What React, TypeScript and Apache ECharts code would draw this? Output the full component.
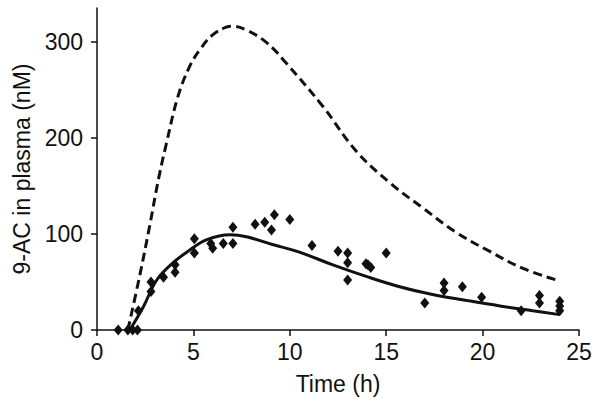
import React, { useEffect, useRef } from "react";
import * as echarts from "echarts";

const obsTime = [1.1, 1.6, 1.85, 2.1, 2.15, 2.8, 2.8, 3.45, 4.05, 4.05, 5.05, 5.05, 5.9, 6.0, 6.55, 7.05, 7.05, 8.2, 8.7, 9.05, 9.2, 10.0, 11.15, 12.5, 13.0, 13.0, 13.0, 13.95, 14.05, 14.2, 15.0, 17.0, 18.0, 18.0, 18.95, 19.95, 22.0, 22.95, 22.95, 24.0, 24.0, 24.0];
const obsConc = [0, 0, 0, 0, 20, 50, 40, 55, 68, 60, 95, 80, 90, 85, 90, 107, 90, 110, 112, 104, 120, 115, 88, 82, 80, 70, 52, 69, 68, 65, 80, 28, 49, 41, 45, 34, 20, 36, 28, 30, 25, 20];

const fitTime = [1.7, 2.4, 3.1, 3.95, 4.8, 5.7, 6.9, 7.75, 9.1, 10.5, 12.2, 14.0, 15.7, 17.4, 19.1, 20.9, 22.6, 24];
const fitConc = [0, 24, 52, 70, 83, 94, 99, 97, 89, 81, 68, 55.5, 45, 37, 31, 25, 20, 16];

const predTime = [1.6, 2.2, 2.7, 3.2, 3.6, 4.2, 4.8, 5.35, 6.0, 6.7, 7.05, 7.75, 8.8, 9.8, 11.7, 13.45, 15.2, 16.9, 18.6, 20.35, 22.1, 24];
const predConc = [0, 55, 105, 158, 194, 243, 274, 292, 307, 315, 316, 312, 299, 278, 233, 186, 153, 127, 102, 82, 64, 51];

const xTicks = { min: 0, max: 25, interval: 5 };
const yTicks = { min: 0, max: 335, interval: 100 };

const zip = (a: number[], b: number[]) => a.map((v, i) => [v, b[i]]);

export default function App() {
  const ref = useRef<HTMLDivElement>(null);
  useEffect(() => {
    if (!ref.current) return;
    const chart = echarts.init(ref.current, null, { renderer: "svg" });
    const font = "'Liberation Sans', Arial, sans-serif";
    const ink = "#111";
    chart.setOption({
      animation: false,
      backgroundColor: "#fff",
      grid: { left: 97, right: 21, top: 8, bottom: 77 },
      xAxis: {
        type: "value",
        min: xTicks.min,
        max: xTicks.max,
        interval: xTicks.interval,
        name: "Time (h)",
        nameLocation: "middle",
        nameGap: 42,
        nameTextStyle: { fontSize: 23, color: ink, fontFamily: font },
        axisLine: { onZero: false, lineStyle: { color: ink, width: 1.5 } },
        axisTick: { length: 6, lineStyle: { color: ink, width: 1.5 } },
        axisLabel: { fontSize: 23, color: ink, fontFamily: font, margin: 10 },
        splitLine: { show: false },
      },
      yAxis: {
        type: "value",
        min: yTicks.min,
        max: yTicks.max,
        interval: yTicks.interval,
        name: "9-AC in plasma (nM)",
        nameLocation: "middle",
        nameGap: 60,
        nameTextStyle: { fontSize: 23, color: ink, fontFamily: font },
        axisLine: { onZero: false, lineStyle: { color: ink, width: 1.5 } },
        axisTick: { length: 6, lineStyle: { color: ink, width: 1.5 } },
        axisLabel: { fontSize: 23, color: ink, fontFamily: font, margin: 14, showMaxLabel: false },
        splitLine: { show: false },
      },
      series: [
        {
          type: "line",
          data: zip(predTime, predConc),
          smooth: 0.4,
          showSymbol: false,
          lineStyle: { color: ink, width: 3, type: [9, 5] },
        },
        {
          type: "line",
          data: zip(fitTime, fitConc),
          smooth: 0.4,
          showSymbol: false,
          lineStyle: { color: ink, width: 3 },
        },
        {
          type: "scatter",
          data: zip(obsTime, obsConc),
          symbol: "diamond",
          symbolSize: [9, 11],
          itemStyle: { color: ink, opacity: 1 },
        },
      ],
    });
    return () => chart.dispose();
  }, []);
  return (
    <div
      ref={ref}
      style={{ position: "fixed", left: 0, top: 0, width: 600, height: 407 }}
    />
  );
}
